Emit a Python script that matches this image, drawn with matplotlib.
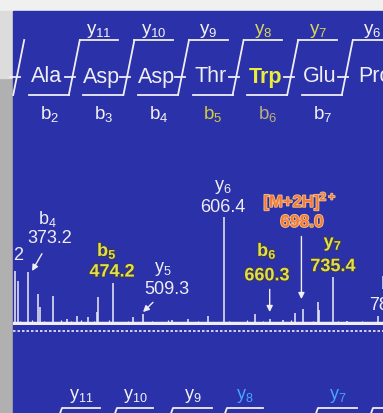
import matplotlib
matplotlib.use("Agg")
import matplotlib.pyplot as plt
from matplotlib.patches import Rectangle
import matplotlib.patheffects as pe

plt.rcParams['font.family'] = ['Liberation Sans', 'DejaVu Sans']
plt.rcParams['mathtext.fontset'] = 'custom'
plt.rcParams['mathtext.rm'] = 'Liberation Sans'
plt.rcParams['mathtext.bf'] = 'Liberation Sans:bold'

# sequence (top)
residues = ["Ala", "Asp", "Asp", "Thr", "Trp", "Glu", "Pro"]
y_ions = ["11", "10", "9", "8", "7", "6"]
b_ions = ["2", "3", "4", "5", "6", "7"]
y_colors = ["#f2f2f2", "#f2f2f2", "#f2f2f2", "#d9d45a", "#d9d45a", "#f2f2f2"]
b_colors = ["#f2f2f2", "#f2f2f2", "#f2f2f2", "#d2cc3c", "#b9b27a", "#f2f2f2"]

# sequence (bottom, partly visible)
y_ions_low = ["11", "10", "9", "8", "7", ""]
y_colors_low = ["#f2f2f2", "#f2f2f2", "#f2f2f2", "#4aa3ff", "#4aa3ff", "#f2f2f2"]

# spectrum peaks (m/z, relative intensity)
peak_mz = [357.8, 361.3, 373.2, 385.1, 387.5, 402.9, 419.5, 431.4, 444.5, 455.5,
           456.4, 474.2, 498.0, 509.3, 544.0, 563.0, 587.0, 606.4, 642.8, 660.3,
           676.0, 690.3, 699.8, 717.6, 718.8, 735.4, 752.0, 789.0]
peak_int = [50, 41, 49, 29, 17, 27, 6, 8, 7, 12,
            26, 39, 7, 10, 5, 6, 8, 100, 10, 6,
            5, 11, 15, 21, 14, 44, 4, 8]
noise_mz = [364, 368, 378, 381, 392, 399, 408, 412, 416, 424, 428, 436, 441, 448,
            452, 461, 466, 470, 480, 486, 492, 503, 515, 520, 527, 534, 539, 550,
            556, 569, 575, 580, 592, 598, 612, 618, 626, 633, 638, 647, 652, 665,
            671, 681, 686, 707, 712, 724, 729, 742, 747, 758, 764, 770, 776, 782, 793]
noise_int = [4, 3, 5, 3, 4, 2, 3, 5, 2, 4, 3, 5, 2, 3,
             4, 2, 3, 5, 3, 2, 4, 3, 2, 4, 3, 2, 5, 3,
             2, 3, 4, 2, 3, 2, 4, 3, 2, 5, 3, 2, 4, 3,
             2, 3, 5, 3, 4, 2, 3, 4, 2, 3, 2, 4, 3, 2, 3]

W, H = 383, 413
blue = "#2b31a8"
white = "#eeeef4"

fig = plt.figure(figsize=(W / 100, H / 100), dpi=100)
bg = fig.add_axes([0, 0, 1, 1])
bg.set_xlim(0, W)
bg.set_ylim(H, 0)
bg.axis("off")

# slide backgrounds
bg.add_patch(Rectangle((0, 0), W, H, color="#f0f0f0", zorder=0))
bg.add_patch(Rectangle((0, 78), 13, H, color="#b0b0b0", zorder=0))
bg.add_patch(Rectangle((0, 11), 13, 67, color="#dcdcdc", zorder=0))
bg.add_patch(Rectangle((13, 11), W, H, color=blue, zorder=1))

# top sequence with fragmentation marks
x0, step = 47, 54.6
lw_seq = 1.3
for i, res in enumerate(residues):
    xc = x0 + i * step
    bold = res == "Trp"
    bg.text(xc, 77, res, ha="center", va="center", fontsize=15.5,
            color="#ecec3a" if bold else white,
            fontweight="bold" if bold else "normal", zorder=3)

slashes = [x0 - step / 2 - 1] + [x0 + (i + 0.5) * step for i in range(len(residues) - 1)]
for j, xs in enumerate(slashes):
    bg.plot([xs - 5.5, xs + 5.5], [95, 40], color=white, lw=lw_seq, zorder=3)
    bg.plot([xs - 9, xs + 1], [77, 77], color=white, lw=lw_seq, zorder=3)
    if j == 0:
        continue
    k = j - 1
    bg.plot([xs + 5.5, xs + 44], [40, 40], color=white, lw=lw_seq, zorder=3)
    bg.plot([xs - 45.5, xs - 5.5], [95, 95], color=white, lw=lw_seq, zorder=3)
    bg.text(xs + 25, 31, "$\\mathregular{y_{%s}}$" % y_ions[k], ha="center",
            va="center", fontsize=13.5, color=y_colors[k], zorder=3)
    bg.text(xs - 25, 114, "$\\mathregular{b_{%s}}$" % b_ions[k], ha="center",
            va="center", fontsize=13.5, color=b_colors[k], zorder=3)

# bottom sequence (cut off)
low_left = [62, 117, 173, 227, 318, 373]
low_right = [100, 153, 212, 263, 357, 410]
for lab, col, xl, xr in zip(y_ions_low, y_colors_low, low_left, low_right):
    bg.plot([xl - 3, xl, xr], [416, 408, 408], color=white, lw=lw_seq, zorder=3)
    txt = "$\\mathregular{y_{%s}}$" % lab if lab else "y"
    bg.text((xl + xr) / 2, 396, txt, ha="center", va="center", fontsize=13,
            color=col, zorder=3)

# dotted line under the spectrum
bg.plot([13, W], [330.5, 330.5], color=white, lw=1.2, ls=(0, (1.5, 1.2)), zorder=3)

# spectrum
ax = fig.add_axes([13 / W, (H - 325) / H, 370 / W, 150 / H], zorder=5)
ax.set_facecolor("none")
ax.set_xlim(355.4, 794.9)
ax.set_ylim(0, 150 / 1.08)
ax.axis("off")
ax.vlines(noise_mz, 0, noise_int, color=white, lw=0.9)
ax.vlines(peak_mz, 0, peak_int, color=white, lw=1.1)
ax.axhline(0.5, color=white, lw=3.2)

plain = dict(ha="center", va="center", fontsize=13, color=white)
gold = dict(ha="center", va="center", fontsize=13, color="#e4de48", fontweight="bold",
            path_effects=[pe.withStroke(linewidth=1.5, foreground="#3a3a50")])
orange = dict(ha="center", va="center", color="#f47a3c", fontweight="bold",
              path_effects=[pe.withStroke(linewidth=1.2, foreground="#f3c58a")])
arrow = dict(arrowstyle="-|>", color=white, lw=1.0, mutation_scale=9, shrinkA=0, shrinkB=0)

ax.text(361.3, 64, "2", clip_on=False, **plain)
ax.text(395.8, 98, "$\\mathregular{b_4}$", **plain)
ax.text(399.3, 80, "373.2", **plain)
ax.annotate("", xy=(378.0, 50), xytext=(389.8, 66), arrowprops=arrow)

ax.text(467.0, 68.5, "$\\mathbf{b_5}$", **gold)
ax.text(473.0, 49, "474.2", **gold)

ax.text(533.6, 52, "$\\mathregular{y_5}$", **plain)
ax.text(538.3, 33, "509.3", **plain)
ax.annotate("", xy=(509.8, 12), xytext=(521.7, 21), arrowprops=arrow)

ax.text(604.8, 128, "$\\mathregular{y_6}$", **plain)
ax.text(604.8, 109, "606.4", **plain)

ax.text(696.3, 115, "[M+2H]$^{\\mathbf{2+}}$", fontsize=12, **orange)
ax.text(698.6, 95, "698.0", fontsize=12.5, **orange)
ax.annotate("", xy=(698.0, 24), xytext=(698.0, 82), arrowprops=arrow)

ax.text(657.1, 68.5, "$\\mathbf{b_6}$", **gold)
ax.text(657.1, 45.5, "660.3", **gold)
ax.annotate("", xy=(660.3, 12), xytext=(660.3, 33), arrowprops=arrow)

ax.text(735.4, 75, "$\\mathbf{y_7}$", **gold)
ax.text(735.4, 54, "735.4", **gold)

ax.text(791.0, 38, "$\\mathregular{b_7}$", ha="left", va="center", fontsize=13, color=white)
ax.text(779.0, 18, "789.4", ha="left", va="center", fontsize=13, color=white)

fig.savefig("out.png", dpi=100)
